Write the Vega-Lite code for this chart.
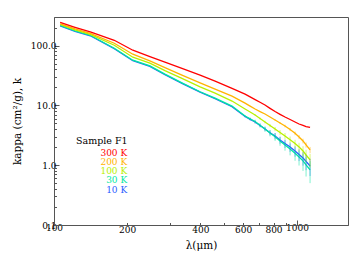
{
  "$schema": "https://vega.github.io/schema/vega-lite/v6.json",
  "width": 294,
  "height": 208,
  "autosize": "none",
  "padding": {"left": 54, "top": 17, "right": 16, "bottom": 35},
  "background": "white",
  "config": {
    "view": {"stroke": "#555", "strokeWidth": 1},
    "axis": {
      "grid": false,
      "domainColor": "#555",
      "tickColor": "#555",
      "labelColor": "#000",
      "labelFont": "DejaVu Serif",
      "labelFontSize": 9,
      "titleFont": "DejaVu Serif",
      "titleFontSize": 10.5,
      "titleFontWeight": "normal",
      "titleColor": "#000",
      "labelOverlap": false,
      "labelFlush": false
    }
  },
  "datasets": {
    "curves": [
      {"T": "10 K", "lam": 106, "k": 214}, {"T": "10 K", "lam": 122, "k": 173}, {"T": "10 K", "lam": 141, "k": 145.5}, {"T": "10 K", "lam": 177, "k": 88.4}, {"T": "10 K", "lam": 211, "k": 55.8}, {"T": "10 K", "lam": 248, "k": 44.8}, {"T": "10 K", "lam": 286, "k": 32.5}, {"T": "10 K", "lam": 336, "k": 23.3}, {"T": "10 K", "lam": 399, "k": 16.6}, {"T": "10 K", "lam": 460, "k": 12.9}, {"T": "10 K", "lam": 540, "k": 9.5},
      {"T": "10 K", "lam": 611, "k": 6.51, "err": 0.208}, {"T": "10 K", "lam": 641, "k": 5.84, "err": 0.234}, {"T": "10 K", "lam": 672, "k": 5.27, "err": 0.295}, {"T": "10 K", "lam": 704, "k": 4.61, "err": 0.295}, {"T": "10 K", "lam": 738, "k": 4.03, "err": 0.322}, {"T": "10 K", "lam": 774, "k": 3.49, "err": 0.335}, {"T": "10 K", "lam": 812, "k": 3.08, "err": 0.37}, {"T": "10 K", "lam": 851, "k": 2.64, "err": 0.359}, {"T": "10 K", "lam": 892, "k": 2.31, "err": 0.37}, {"T": "10 K", "lam": 936, "k": 2.02, "err": 0.356}, {"T": "10 K", "lam": 981, "k": 1.73, "err": 0.346}, {"T": "10 K", "lam": 1019, "k": 1.51, "err": 0.338}, {"T": "10 K", "lam": 1058, "k": 1.32, "err": 0.338}, {"T": "10 K", "lam": 1089, "k": 1.16, "err": 0.334}, {"T": "10 K", "lam": 1131, "k": 0.97, "err": 0.31},

      {"T": "30 K", "lam": 106, "k": 218}, {"T": "30 K", "lam": 122, "k": 176.5}, {"T": "30 K", "lam": 141, "k": 148.5}, {"T": "30 K", "lam": 177, "k": 90.2}, {"T": "30 K", "lam": 211, "k": 56.9}, {"T": "30 K", "lam": 248, "k": 45.7}, {"T": "30 K", "lam": 286, "k": 33.2}, {"T": "30 K", "lam": 336, "k": 23.8}, {"T": "30 K", "lam": 399, "k": 16.9}, {"T": "30 K", "lam": 460, "k": 13.2}, {"T": "30 K", "lam": 540, "k": 9.73},
      {"T": "30 K", "lam": 611, "k": 6.63, "err": 0.265}, {"T": "30 K", "lam": 641, "k": 5.96, "err": 0.298}, {"T": "30 K", "lam": 672, "k": 5.37, "err": 0.376}, {"T": "30 K", "lam": 704, "k": 4.66, "err": 0.373}, {"T": "30 K", "lam": 738, "k": 4.03, "err": 0.403}, {"T": "30 K", "lam": 774, "k": 3.45, "err": 0.414}, {"T": "30 K", "lam": 812, "k": 3.0, "err": 0.45}, {"T": "30 K", "lam": 851, "k": 2.54, "err": 0.432}, {"T": "30 K", "lam": 892, "k": 2.18, "err": 0.436}, {"T": "30 K", "lam": 936, "k": 1.87, "err": 0.411}, {"T": "30 K", "lam": 981, "k": 1.58, "err": 0.395}, {"T": "30 K", "lam": 1019, "k": 1.37, "err": 0.384}, {"T": "30 K", "lam": 1058, "k": 1.18, "err": 0.378}, {"T": "30 K", "lam": 1089, "k": 1.01, "err": 0.364}, {"T": "30 K", "lam": 1131, "k": 0.835, "err": 0.334},

      {"T": "100 K", "lam": 106, "k": 226}, {"T": "100 K", "lam": 122, "k": 183}, {"T": "100 K", "lam": 141, "k": 154}, {"T": "100 K", "lam": 177, "k": 101}, {"T": "100 K", "lam": 211, "k": 63.8}, {"T": "100 K", "lam": 248, "k": 50.7}, {"T": "100 K", "lam": 286, "k": 38.0}, {"T": "100 K", "lam": 336, "k": 28.2}, {"T": "100 K", "lam": 399, "k": 20.4}, {"T": "100 K", "lam": 460, "k": 16.0}, {"T": "100 K", "lam": 540, "k": 11.8},
      {"T": "100 K", "lam": 611, "k": 8.68}, {"T": "100 K", "lam": 641, "k": 7.73}, {"T": "100 K", "lam": 672, "k": 6.89, "err": 0.207}, {"T": "100 K", "lam": 704, "k": 6.03, "err": 0.241}, {"T": "100 K", "lam": 738, "k": 5.27, "err": 0.264}, {"T": "100 K", "lam": 774, "k": 4.61, "err": 0.277}, {"T": "100 K", "lam": 812, "k": 4.03, "err": 0.322}, {"T": "100 K", "lam": 851, "k": 3.52, "err": 0.352}, {"T": "100 K", "lam": 892, "k": 3.08, "err": 0.37}, {"T": "100 K", "lam": 936, "k": 2.67, "err": 0.347}, {"T": "100 K", "lam": 981, "k": 2.31, "err": 0.347}, {"T": "100 K", "lam": 1019, "k": 2.02, "err": 0.343}, {"T": "100 K", "lam": 1058, "k": 1.73, "err": 0.346}, {"T": "100 K", "lam": 1089, "k": 1.48, "err": 0.326}, {"T": "100 K", "lam": 1131, "k": 1.23, "err": 0.308},

      {"T": "200 K", "lam": 106, "k": 231}, {"T": "200 K", "lam": 122, "k": 190.5}, {"T": "200 K", "lam": 141, "k": 160.3}, {"T": "200 K", "lam": 177, "k": 109.2}, {"T": "200 K", "lam": 211, "k": 71.6}, {"T": "200 K", "lam": 248, "k": 55.4}, {"T": "200 K", "lam": 286, "k": 42.7}, {"T": "200 K", "lam": 336, "k": 32.0}, {"T": "200 K", "lam": 399, "k": 23.8}, {"T": "200 K", "lam": 460, "k": 18.7}, {"T": "200 K", "lam": 540, "k": 14.3},
      {"T": "200 K", "lam": 611, "k": 10.92}, {"T": "200 K", "lam": 641, "k": 9.73}, {"T": "200 K", "lam": 672, "k": 8.68}, {"T": "200 K", "lam": 704, "k": 7.88}, {"T": "200 K", "lam": 738, "k": 7.16}, {"T": "200 K", "lam": 774, "k": 6.38}, {"T": "200 K", "lam": 812, "k": 5.69, "err": 0.171}, {"T": "200 K", "lam": 851, "k": 5.07, "err": 0.203}, {"T": "200 K", "lam": 892, "k": 4.52, "err": 0.226}, {"T": "200 K", "lam": 936, "k": 3.95, "err": 0.237}, {"T": "200 K", "lam": 981, "k": 3.41, "err": 0.239}, {"T": "200 K", "lam": 1019, "k": 2.96, "err": 0.237}, {"T": "200 K", "lam": 1058, "k": 2.54, "err": 0.229}, {"T": "200 K", "lam": 1089, "k": 2.18, "err": 0.218}, {"T": "200 K", "lam": 1131, "k": 1.8, "err": 0.216},

      {"T": "300 K", "lam": 106, "k": 244}, {"T": "300 K", "lam": 122, "k": 202}, {"T": "300 K", "lam": 141, "k": 168.6}, {"T": "300 K", "lam": 177, "k": 122.5}, {"T": "300 K", "lam": 211, "k": 83.5}, {"T": "300 K", "lam": 248, "k": 65.1}, {"T": "300 K", "lam": 286, "k": 52.7}, {"T": "300 K", "lam": 336, "k": 41.4}, {"T": "300 K", "lam": 399, "k": 32.0}, {"T": "300 K", "lam": 460, "k": 25.4}, {"T": "300 K", "lam": 540, "k": 19.2},
      {"T": "300 K", "lam": 611, "k": 15.43}, {"T": "300 K", "lam": 641, "k": 13.86}, {"T": "300 K", "lam": 672, "k": 12.5}, {"T": "300 K", "lam": 704, "k": 11.26}, {"T": "300 K", "lam": 738, "k": 10.12}, {"T": "300 K", "lam": 774, "k": 8.91}, {"T": "300 K", "lam": 812, "k": 7.88}, {"T": "300 K", "lam": 851, "k": 7.08}, {"T": "300 K", "lam": 892, "k": 6.38}, {"T": "300 K", "lam": 936, "k": 5.8}, {"T": "300 K", "lam": 981, "k": 5.27}, {"T": "300 K", "lam": 1019, "k": 4.88}, {"T": "300 K", "lam": 1058, "k": 4.61}, {"T": "300 K", "lam": 1089, "k": 4.42}, {"T": "300 K", "lam": 1131, "k": 4.27}
    ],
    "legend": [
      {"T": "300 K", "lam": 200, "k": 1.603},
      {"T": "200 K", "lam": 200, "k": 1.122},
      {"T": "100 K", "lam": 200, "k": 0.788},
      {"T": "30 K", "lam": 200, "k": 0.558},
      {"T": "10 K", "lam": 200, "k": 0.388}
    ],
    "heading": [
      {"label": "Sample F1", "lam": 123.2, "k": 2.54}
    ]
  },
  "layer": [
    {
      "data": {"name": "curves"},
      "mark": {"type": "line", "strokeWidth": 1.3},
      "encoding": {
        "x": {"field": "lam", "type": "quantitative",
          "scale": {"type": "log", "domain": [100, 1620], "nice": false},
          "axis": {"orient": "bottom", "title": "λ(μm)", "titlePadding": 6,
            "values": [100, 200, 300, 400, 500, 600, 700, 800, 900, 1000],
            "labelExpr": "indexof([100,200,400,600,800,1000], datum.value) >= 0 ? format(datum.value, 'd') : ''",
            "tickSize": {"expr": "datum.value == 100 || datum.value == 1000 ? -5 : -2.5"},
            "labelPadding": 3}},
        "y": {"field": "k", "type": "quantitative",
          "scale": {"type": "log", "domain": [0.1, 300], "nice": false},
          "axis": {"orient": "left", "title": "kappa (cm²/g)", "titlePadding": 8,
            "values": [0.1, 0.2, 0.3, 0.4, 0.5, 0.6, 0.7, 0.8, 0.9, 1, 2, 3, 4, 5, 6, 7, 8, 9, 10, 20, 30, 40, 50, 60, 70, 80, 90, 100, 200],
            "labelExpr": "indexof([0.1,1,10,100], datum.value) >= 0 ? format(datum.value, '.1f') : ''",
            "tickSize": {"expr": "indexof([0.1,1,10,100], datum.value) >= 0 ? -5 : -2.5"},
            "labelPadding": 3}},
        "color": {"field": "T", "type": "nominal", "legend": null,
          "scale": {"domain": ["10 K", "30 K", "100 K", "200 K", "300 K"], "range": ["#2a5cff", "#00e8a0", "#b8f000", "#ffb400", "#ff0000"]}}
      }
    },
    {
      "data": {"name": "curves"},
      "transform": [{"filter": "datum.err != null"}],
      "mark": {"type": "errorbar", "thickness": 1, "opacity": 0.5},
      "encoding": {
        "x": {"field": "lam", "type": "quantitative"},
        "y": {"field": "k", "type": "quantitative"},
        "yError": {"field": "err"},
        "color": {"field": "T", "type": "nominal", "legend": null}
      }
    },
    {
      "data": {"name": "heading"},
      "mark": {"type": "text", "align": "left", "baseline": "middle", "font": "DejaVu Serif", "fontSize": 9.5, "color": "#000"},
      "encoding": {
        "x": {"field": "lam", "type": "quantitative"},
        "y": {"field": "k", "type": "quantitative"},
        "text": {"field": "label"}
      }
    },
    {
      "data": {"name": "legend"},
      "mark": {"type": "text", "align": "right", "baseline": "middle", "font": "DejaVu Serif", "fontSize": 9},
      "encoding": {
        "x": {"field": "lam", "type": "quantitative"},
        "y": {"field": "k", "type": "quantitative"},
        "text": {"field": "T"},
        "color": {"field": "T", "type": "nominal", "legend": null}
      }
    }
  ]
}
